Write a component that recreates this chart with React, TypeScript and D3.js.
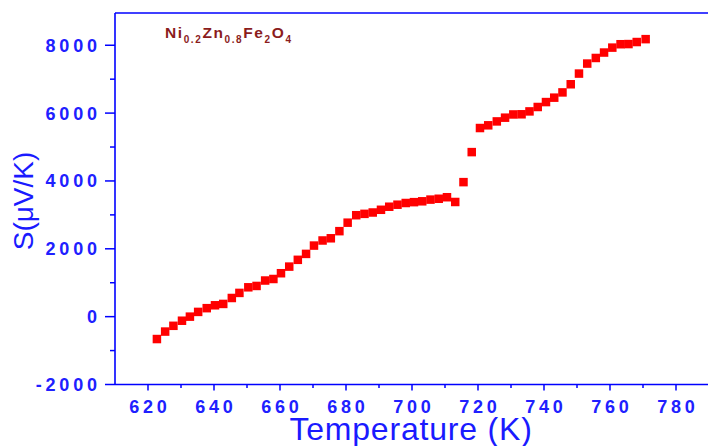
import React from "react";
import * as d3 from "d3";

const temperature = [
  622.7, 625.2, 627.7, 630.3, 632.7, 635.2, 637.8, 640.3, 642.8, 645.4,
  647.7, 650.4, 652.9, 655.5, 658.0, 660.3, 662.8, 665.4, 667.9, 670.3,
  672.9, 675.4, 678.0, 680.5, 683.1, 685.6, 688.1, 690.6, 693.1, 695.6,
  698.1, 700.6, 703.1, 705.6, 708.1, 710.6, 713.1, 715.6, 718.1, 720.6,
  723.1, 725.7, 728.2, 730.7, 733.2, 735.6, 738.1, 740.6, 743.1, 745.6,
  748.1, 750.6, 753.1, 755.7, 758.2, 760.7, 763.2, 765.6, 768.1, 770.8,
];
const seebeck = [
  -660, -440, -270, -120, 0, 140, 250, 335, 375, 550,
  700, 865, 905, 1065, 1110, 1280, 1475, 1675, 1850, 2095,
  2245, 2310, 2520, 2770, 2990, 3030, 3070, 3150, 3240, 3300,
  3350, 3375, 3400, 3450, 3475, 3520, 3380, 3965, 4850, 5560,
  5640, 5755, 5865, 5960, 5965, 6050, 6180, 6325, 6455, 6610,
  6850, 7165, 7460, 7625, 7785, 7930, 8030, 8035, 8095, 8180,
];
const xMajorTicks = [620, 640, 660, 680, 700, 720, 740, 760, 780];
const xMinorTicks = [630, 650, 670, 690, 710, 730, 750, 770];
const yMajorTicks = [-2000, 0, 2000, 4000, 6000, 8000];
const yMinorTicks = [-1000, 1000, 3000, 5000, 7000];

const W = 708;
const H = 446;
const left = 115;
const top = 13;
const bottom = 384.5;
const right = 709;

export default function App() {
  const x = d3.scaleLinear().domain([610, 790]).range([left, right]);
  const y = d3.scaleLinear().domain([-2000, 8000]).range([bottom, 45.25]);
  const blue = "#0000ff";
  const ms = 8.5;
  const ls = 3.8;
  const tickFont = {
    fontFamily: "Arial, 'Liberation Sans', sans-serif",
    fontWeight: 700,
    fontSize: 18,
    letterSpacing: ls,
    fill: "#2020ff",
  } as const;
  return (
    <svg
      width={W}
      height={H}
      style={{ position: "absolute", left: 0, top: 0, background: "#fff" }}
    >
      {/* axes */}
      <line x1={left} x2={W} y1={top} y2={top} stroke={blue} strokeWidth={1.6} />
      <line x1={left} x2={W} y1={bottom} y2={bottom} stroke={blue} strokeWidth={1.6} />
      <line x1={left} x2={left} y1={top} y2={bottom} stroke={blue} strokeWidth={1.6} />
      {xMajorTicks.map((t) => (
        <g key={"xm" + t}>
          <line x1={x(t)} x2={x(t)} y1={bottom} y2={bottom + 6} stroke={blue} strokeWidth={1.5} />
          <text x={x(t) + ls / 2} y={413} textAnchor="middle" style={tickFont}>
            {t}
          </text>
        </g>
      ))}
      {xMinorTicks.map((t) => (
        <line key={"xn" + t} x1={x(t)} x2={x(t)} y1={bottom} y2={bottom + 3.5} stroke={blue} strokeWidth={1.5} />
      ))}
      {yMajorTicks.map((t) => (
        <g key={"ym" + t}>
          <line x1={left - 10} x2={left} y1={y(t)} y2={y(t)} stroke={blue} strokeWidth={1.5} />
          <text x={97 + ls} y={y(t) + 6.5} textAnchor="end" style={tickFont}>
            {t}
          </text>
        </g>
      ))}
      {yMinorTicks.map((t) => (
        <line key={"yn" + t} x1={left - 5} x2={left} y1={y(t)} y2={y(t)} stroke={blue} strokeWidth={1.5} />
      ))}
      {/* data */}
      {temperature.map((t, i) => (
        <rect
          key={"p" + i}
          x={x(t) - ms / 2}
          y={y(seebeck[i]) - ms / 2}
          width={ms}
          height={ms}
          fill="#ff0000"
        />
      ))}
      {/* axis titles */}
      <text
        x={411}
        y={440}
        textAnchor="middle"
        style={{ fontFamily: "Arial, 'Liberation Sans', sans-serif", fontSize: 32, letterSpacing: 0.8, fill: "#1a1aff" }}
      >
        Temperature (K)
      </text>
      <text
        transform="translate(33,201) rotate(-90)"
        textAnchor="middle"
        style={{ fontFamily: "Arial, 'Liberation Sans', sans-serif", fontSize: 28, fill: "#1a1aff" }}
      >
        S(μV/K)
      </text>
      {/* label */}
      <text
        x={165}
        y={38}
        style={{ fontFamily: "Arial, 'Liberation Sans', sans-serif", fontWeight: 700, fontSize: 15.5, letterSpacing: 1.6, fill: "#8b1c1c" }}
      >
        Ni<tspan fontSize={10} dy={5}>0.2</tspan>
        <tspan dy={-5}>Zn</tspan>
        <tspan fontSize={10} dy={5}>0.8</tspan>
        <tspan dy={-5}>Fe</tspan>
        <tspan fontSize={10} dy={5}>2</tspan>
        <tspan dy={-5}>O</tspan>
        <tspan fontSize={10} dy={5}>4</tspan>
      </text>
    </svg>
  );
}
